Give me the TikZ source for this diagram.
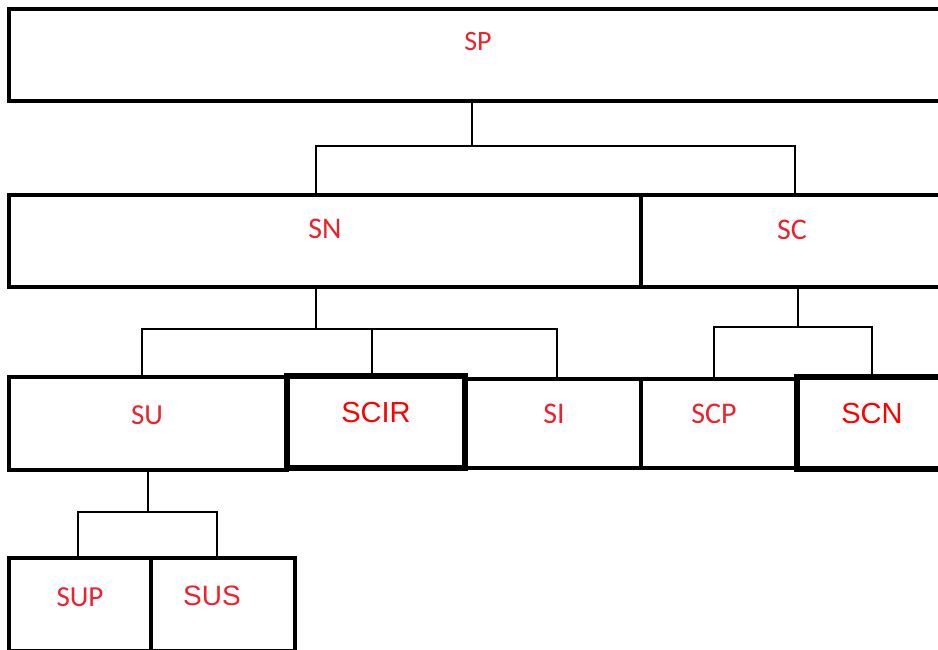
\documentclass[tikz,border=0pt]{standalone}
\usepackage{fontspec}
\setmainfont{Carlito}
\newfontfamily\calfont{Carlito}
\newfontfamily\arfont{Liberation Sans}
\definecolor{lblred}{RGB}{238,34,44}
\definecolor{lblredb}{RGB}{255,0,0}
\tikzset{
  box/.style={draw=black, rectangle, anchor=north west, inner sep=0pt, outer sep=0pt, line width=3.6pt},
  thickbox/.style={box, line width=5.2pt},
  conn/.style={draw=black, line width=1.8pt},
  tc/.style={anchor=base, inner sep=0pt, text=lblred, font=\calfont\fontsize{29}{32}\selectfont},
  ta/.style={anchor=base, inner sep=0pt, text=lblredb, font=\arfont\fontsize{29}{32}\selectfont},
}
\begin{document}
\begin{tikzpicture}[x=1pt, y=-1pt]
\useasboundingbox (0,0) rectangle (938,650);
\clip (0,0) rectangle (938,650);
\fill[white] (0,0) rectangle (938,650);

% boxes
\path
  (9,9)     node[box, minimum width=938pt, minimum height=92pt] (sp) {}
  (9,195)   node[box, minimum width=632pt, minimum height=92pt] (sn) {}
  (641,195) node[box, minimum width=306pt, minimum height=92pt] (sc) {}
  (9,377)   node[box, minimum width=278pt, minimum height=93pt] (su) {}
  (287,376) node[thickbox, minimum width=178pt, minimum height=92pt] (scir) {}
  (465,379) node[box, minimum width=176pt, minimum height=89pt] (si) {}
  (641,379) node[box, minimum width=156pt, minimum height=89pt] (scp) {}
  (797,377) node[thickbox, minimum width=150pt, minimum height=92pt] (scn) {}
  (9,558)   node[box, minimum width=142pt, minimum height=93pt] (sup) {}
  (151,558) node[box, minimum width=144pt, minimum height=93pt] (sus) {};

% tree connectors
\draw[conn] ([xshift=463pt]sp.south west) -- ++(0,45) coordinate (j1);
\draw[conn] ([xshift=307pt]sn.north west) |- (j1) -| ([xshift=154pt]sc.north west);

\draw[conn] ([xshift=307pt]sn.south west) -- ++(0,42) coordinate (j2);
\draw[conn] ([xshift=133pt]su.north west) |- (j2);
\draw[conn] ([xshift=92pt]si.north west) |- (j2);
\draw[conn] ([xshift=85pt]scir.north west) |- (j2);

\draw[conn] ([xshift=157pt]sc.south west) -- ++(0,40) coordinate (j3);
\draw[conn] ([xshift=73pt]scp.north west) |- (j3) -| ([xshift=75pt]scn.north west);

\draw[conn] ([xshift=139pt]su.south west) -- ++(0,42) coordinate (j4);
\draw[conn] ([xshift=69pt]sup.north west) |- (j4) -| ([xshift=66pt]sus.north west);

% labels
\node[tc, font=\calfont\fontsize{28}{32}\selectfont] (tsp) at (478,51) {SP};
\node[tc, font=\calfont\fontsize{30}{32}\selectfont] (tsn) at (325,239) {SN};
\node[tc, font=\calfont\fontsize{30}{32}\selectfont] (tsc) at (792,240) {SC};
\node[tc] (tsu) at (147,424) {SU};
\node[ta] (tscir) at (376,422) {SCIR};
\node[tc, font=\calfont\fontsize{30}{32}\selectfont] (tsi) at (554,423) {SI};
\node[tc, font=\calfont\fontsize{30}{32}\selectfont] (tscp) at (714,423) {SCP};
\node[ta] (tscn) at (872,423) {SCN};
\node[tc] (tsup) at (80,606) {SUP};
\node[ta, text=lblred, font=\arfont\fontsize{28}{32}\selectfont] (tsus) at (212,605) {SUS};
\end{tikzpicture}
\end{document}
